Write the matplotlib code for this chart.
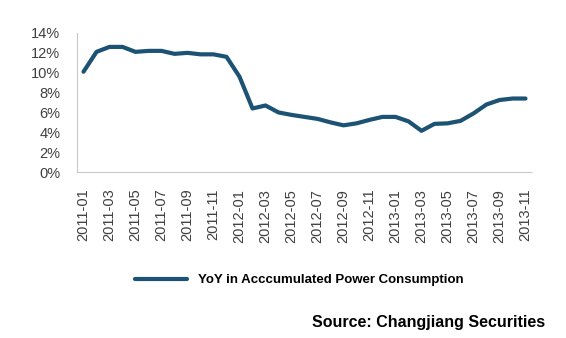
import numpy as np
import matplotlib.pyplot as plt

plt.rcParams['font.family'] = ['Liberation Sans', 'DejaVu Sans']

# monthly YoY growth of accumulated power consumption, %
months = ['2011-01', '2011-02', '2011-03', '2011-04', '2011-05', '2011-06',
          '2011-07', '2011-08', '2011-09', '2011-10', '2011-11', '2011-12',
          '2012-01', '2012-02', '2012-03', '2012-04', '2012-05', '2012-06',
          '2012-07', '2012-08', '2012-09', '2012-10', '2012-11', '2012-12',
          '2013-01', '2013-02', '2013-03', '2013-04', '2013-05', '2013-06',
          '2013-07', '2013-08', '2013-09', '2013-10', '2013-11']
yoy = [10.1, 12.1, 12.6, 12.6, 12.1, 12.2,
       12.2, 11.9, 12.0, 11.85, 11.85, 11.6,
       9.6, 6.4, 6.7, 6.0, 5.75, 5.55,
       5.35, 5.0, 4.7, 4.9, 5.25, 5.55,
       5.55, 5.1, 4.15, 4.85, 4.9, 5.15,
       5.9, 6.8, 7.25, 7.4, 7.4]
series_name = 'YoY in Acccumulated Power Consumption'
source_text = 'Source: Changjiang Securities'

fig = plt.figure(figsize=(5.66, 3.38), dpi=100)
ax = fig.add_axes([77/566, 1 - 172/338, (532 - 77)/566, (172 - 33)/338])

x = np.arange(len(months))
line, = ax.plot(x, np.array(yoy) / 100, color='#1c5273', linewidth=3.0,
                solid_capstyle='round', solid_joinstyle='round',
                label=series_name)

ax.set_xlim(-0.5, len(months) - 0.5)
ax.set_ylim(0, 0.14)
ax.set_yticks(np.arange(0, 0.141, 0.02))
ax.set_yticklabels([f'{int(round(v*100))}%' for v in np.arange(0, 0.141, 0.02)])
ax.set_xticks(x[::2])
ax.set_xticklabels(months[::2], rotation=90)

for side in ['top', 'right']:
    ax.spines[side].set_visible(False)
for side in ['left', 'bottom']:
    ax.spines[side].set_color('#c8c8c8')
    ax.spines[side].set_linestyle((0, (1, 1)))
    ax.spines[side].set_linewidth(0.8)

ax.tick_params(axis='y', length=0, labelsize=10.5, labelcolor='#404040', pad=12)
ax.tick_params(axis='x', length=0, labelsize=10.5, labelcolor='#404040', pad=12)

fig.legend(handles=[line], loc='center', bbox_to_anchor=(299/566, 1 - 280/338),
           frameon=False, handlelength=4.0, handletextpad=0.8,
           prop={'weight': 'bold', 'size': 9.5})

fig.text(545/566, 1 - 322/338, source_text, ha='right', va='center',
         fontsize=11.5, fontweight='bold', color='black')

fig.savefig('out.png', dpi=100)
